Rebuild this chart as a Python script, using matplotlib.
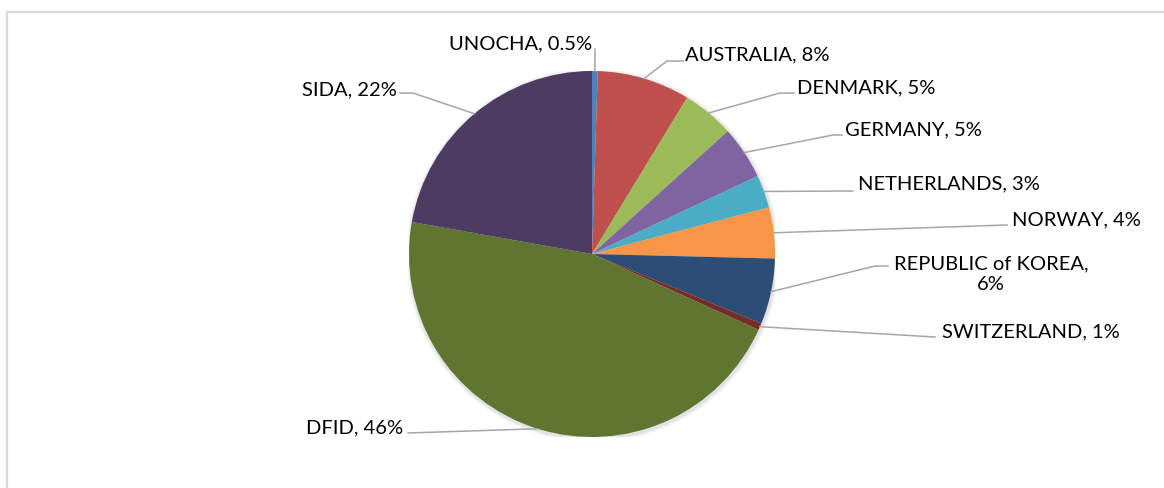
import matplotlib.pyplot as plt
from matplotlib.patches import Rectangle, Circle
import numpy as np

# donor shares, clockwise from 12 o'clock
donors = ["UNOCHA", "AUSTRALIA", "DENMARK", "GERMANY", "NETHERLANDS",
          "NORWAY", "REPUBLIC of KOREA", "SWITZERLAND", "DFID", "SIDA"]
shares = [0.5, 8.2, 4.6, 4.7, 2.9, 4.5, 5.8, 0.6, 46.0, 22.2]
share_labels = ["0.5%", "8%", "5%", "5%", "3%", "4%", "6%", "1%", "46%", "22%"]
colors = ["#4F81BD", "#C0504D", "#9BBB59", "#8064A2", "#4BACC6",
          "#F79646", "#2C4D75", "#772C2A", "#5F7530", "#4D3B62"]

W, H = 1164, 489
CX, CY, R = 592, 255, 183   # pie centre / radius in pixels

# label layout in pixels (top-left origin): elbow, line end, text anchor, ha
layout = {
    "UNOCHA":            (None,        (595, 50),   (592, 44),  "right"),
    "AUSTRALIA":         ((667, 62),   (683, 62),   (685, 55),  "left"),
    "DENMARK":           ((780, 94),   (794, 94),   (797, 88),  "left"),
    "GERMANY":           ((833, 136),  (842, 136),  (845, 130), "left"),
    "NETHERLANDS":       (None,        (853, 192),  (858, 184), "left"),
    "NORWAY":            (None,        (1007, 226), (1012, 220), "left"),
    "REPUBLIC of KOREA": ((875, 267),  (888, 267),  (991, 274), "center"),
    "SWITZERLAND":       (None,        (935, 338),  (942, 332), "left"),
    "DFID":              (None,        (408, 434),  (403, 428), "right"),
    "SIDA":              ((413, 94),   (400, 94),   (397, 90),  "right"),
}


def px2d(x, y):
    return (x - CX) / R, (CY - y) / R


plt.rcParams['font.family'] = ['Lato', 'DejaVu Sans']

fig = plt.figure(figsize=(W / 100, H / 100), dpi=100)
fig.patches.append(Rectangle((6.5 / W, -0.1), 1.2, 1.1 - 12.5 / H,
                             transform=fig.transFigure, fill=False,
                             edgecolor="#D9D9D9", linewidth=1.6))

ax = fig.add_axes([(CX - R) / W, 1 - (CY + R) / H, 2 * R / W, 2 * R / H])

# soft shadow
for i, a in enumerate([0.04, 0.04, 0.04]):
    ax.add_patch(Circle((0.004, -0.008), 1.0 + 0.007 * (i + 1), color="black",
                        alpha=a, lw=0, zorder=0))

wedges, _ = ax.pie(shares, colors=colors, startangle=90, counterclock=False,
                   radius=1, wedgeprops=dict(linewidth=0))
ax.set_xlim(-1, 1)
ax.set_ylim(-1, 1)
ax.set_aspect("equal")
ax.axis("off")

for w, name, lab in zip(wedges, donors, share_labels):
    elbow, end, txt, ha = layout[name]
    mid = np.deg2rad((w.theta1 + w.theta2) / 2)
    pts = [(np.cos(mid), np.sin(mid))]
    if elbow is not None:
        pts.append(px2d(*elbow))
    pts.append(px2d(*end))
    xs, ys = zip(*pts)
    ax.plot(xs, ys, color="#A6A6A6", lw=1.1, clip_on=False, zorder=1)
    if name == "REPUBLIC of KOREA":
        text = f"{name},\n{lab}"
    else:
        text = f"{name}, {lab}"
    tx, ty = px2d(*txt)
    ax.text(tx, ty, text, ha=ha, va="center", fontsize=14.5, color="black",
            linespacing=1.25, clip_on=False)

fig.savefig("out.png", dpi=100)
